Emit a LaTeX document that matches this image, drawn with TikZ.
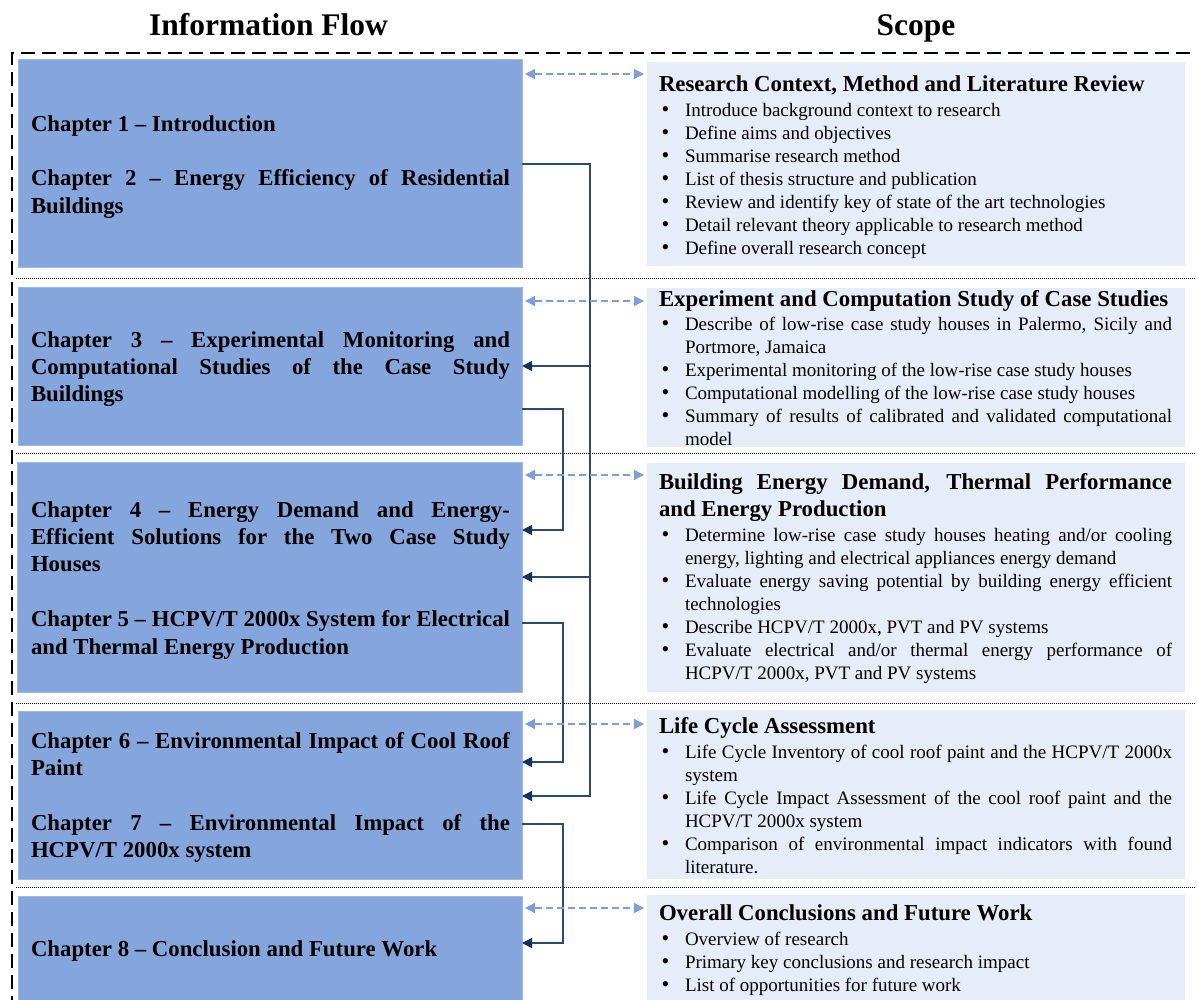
\documentclass[tikz,border=0pt]{standalone}
\usepackage{fontspec}
\setmainfont{Liberation Serif}
\usetikzlibrary{arrows.meta}
\definecolor{chapfill}{RGB}{132,166,220}
\definecolor{chapedge}{RGB}{160,186,230}
\definecolor{scopefill}{RGB}{230,236,248}
\definecolor{dasharrow}{RGB}{124,158,218}
\definecolor{flowline}{RGB}{42,76,116}
\definecolor{flowtip}{RGB}{18,52,92}
\newcommand\chapfont{\fontsize{22.8pt}{27.4pt}\selectfont\bfseries}
\newcommand\headfont{\fontsize{22.8pt}{27pt}\selectfont\bfseries}
\newcommand\bulfont{\fontsize{19pt}{23pt}\selectfont\mdseries}
\newcommand\titlefont{\fontsize{31.5pt}{36pt}\selectfont\bfseries}
\newcommand\bitem[1]{\par\hangindent=26pt\hangafter=1\noindent\makebox[26pt][l]{\hspace{2.5pt}{\fontsize{22pt}{23pt}\selectfont\textbullet}}#1}
\newcommand\chaptext[1]{\parbox[t]{479pt}{\hyphenpenalty=10000\exhyphenpenalty=10000\tolerance=10000\chapfont #1}}
\newcommand\scopetext[1]{\parbox[t]{513pt}{\hyphenpenalty=10000\exhyphenpenalty=10000\tolerance=10000 #1}}
\begin{document}
\begin{tikzpicture}[x=1pt,y=-1pt,
  chapbox/.style={draw=chapedge, line width=1pt, fill=chapfill, anchor=north west, inner sep=0pt, outer sep=0pt},
  scopebox/.style={fill=scopefill, draw=none, anchor=north west, inner sep=0pt, outer sep=0pt, minimum width=538pt},
  txt/.style={anchor=base west, inner sep=0pt, outer sep=0pt},
  flow/.style={draw=flowline, line width=1.5pt},
  flowarrow/.style={flow, -{Triangle[length=10pt,width=10pt,color=flowtip]}},
  linkarrow/.style={draw=dasharrow, line width=1.3pt, dash pattern=on 7pt off 4pt,
    {Triangle[length=10pt,width=10pt]}-{Triangle[length=10pt,width=10pt]},
    shorten <=3pt, shorten >=3pt},
  sepline/.style={draw=black, line width=0.8pt, dash pattern=on 1pt off 1pt},
  frameline/.style={draw=black, line width=2pt, dash pattern=on 14pt off 7pt}]
\useasboundingbox[fill=white] (0,0) rectangle (1197,999);

% titles
\node[anchor=base, inner sep=0pt] (t1) at (268.5,35) {\titlefont Information Flow};
\node[anchor=base, inner sep=0pt] (t2) at (916,35) {\titlefont Scope};

% outer dashed frame
\draw[frameline] (12,1010) -- (12,53) -- (1215,53);

% separators
\draw[sepline] (16,278) -- (1195,278);
\draw[sepline] (16,453) -- (1195,453);
\draw[sepline] (16,703) -- (1195,703);
\draw[sepline] (16,887) -- (1195,887);

% chapter boxes
\node[chapbox, minimum width=504pt, minimum height=208pt] (L1) at (18,59) {};
\node[chapbox, minimum width=504pt, minimum height=158pt] (L2) at (18,287) {};
\node[chapbox, minimum width=505pt, minimum height=230pt] (L3) at (17,462) {};
\node[chapbox, minimum width=504pt, minimum height=168pt] (L4) at (18,711) {};
\node[chapbox, minimum width=504pt, minimum height=120pt] (L5) at (18,896) {};

% scope boxes
\node[scopebox, minimum height=204pt] (R1) at (647,62) {};
\node[scopebox, minimum height=159pt] (R2) at (647,288) {};
\node[scopebox, minimum height=229pt] (R3) at (647,463) {};
\node[scopebox, minimum height=169pt] (R4) at (647,710) {};
\node[scopebox, minimum height=120pt] (R5) at (647,895) {};

% chapter texts
\node[txt] (T1) at (31,131) {\chaptext{Chapter 1 \textendash{} Introduction\par\vspace{27.4pt}
  Chapter 2 \textendash{} Energy Efficiency of Residential\linebreak Buildings}};
\node[txt] (T2) at (31,347) {\chaptext{Chapter 3 \textendash{} Experimental Monitoring and\linebreak
  Computational Studies of the Case Study\linebreak Buildings}};
\node[txt] (T3) at (31,517) {\chaptext{Chapter 4 \textendash{} Energy Demand and Energy-\linebreak
  Efficient Solutions for the Two Case Study\linebreak Houses\par\vspace{27.4pt}
  Chapter 5 \textendash{} HCPV/T 2000x System for Electrical\linebreak and Thermal Energy Production}};
\node[txt] (T4) at (31,748) {\chaptext{Chapter 6 \textendash{} Environmental Impact of Cool Roof\linebreak Paint\par\vspace{27.4pt}
  Chapter 7 \textendash{} Environmental Impact of the\linebreak HCPV/T 2000x system}};
\node[txt] (T5) at (31,956) {\chaptext{Chapter 8 \textendash{} Conclusion and Future Work}};

% scope texts
\node[txt] (S1) at (659,91) {\scopetext{\headfont Research Context, Method and Literature Review\par
  \vspace{2.5pt}\bulfont
  \bitem{Introduce background context to research}
  \bitem{Define aims and objectives}
  \bitem{Summarise research method}
  \bitem{List of thesis structure and publication}
  \bitem{Review and identify key of state of the art technologies}
  \bitem{Detail relevant theory applicable to research method}
  \bitem{Define overall research concept}}};
\node[txt] (S2) at (659,306) {\scopetext{\headfont Experiment and Computation Study of Case Studies\par
  \vspace{1.5pt}\bulfont
  \bitem{Describe of low-rise case study houses in Palermo, Sicily and\linebreak Portmore, Jamaica}
  \bitem{Experimental monitoring of the low-rise case study houses}
  \bitem{Computational modelling of the low-rise case study houses}
  \bitem{Summary of results of calibrated and validated computational\linebreak model}}};
\node[txt] (S3) at (659,489) {\scopetext{\headfont Building Energy Demand, Thermal Performance\linebreak and Energy Production\par
  \vspace{2.5pt}\bulfont
  \bitem{Determine low-rise case study houses heating and/or cooling\linebreak energy, lighting and electrical appliances energy demand}
  \bitem{Evaluate energy saving potential by building energy efficient\linebreak technologies}
  \bitem{Describe HCPV/T 2000x, PVT and PV systems}
  \bitem{Evaluate electrical and/or thermal energy performance of\linebreak HCPV/T 2000x, PVT and PV systems}}};
\node[txt] (S4) at (659,733) {\scopetext{\headfont Life Cycle Assessment\par
  \vspace{2.5pt}\bulfont
  \bitem{Life Cycle Inventory of cool roof paint and the HCPV/T 2000x\linebreak system}
  \bitem{Life Cycle Impact Assessment of the cool roof paint and the\linebreak HCPV/T 2000x system}
  \bitem{Comparison of environmental impact indicators with found\linebreak literature.}}};
\node[txt] (S5) at (659,920) {\scopetext{\headfont Overall Conclusions and Future Work\par
  \vspace{2.5pt}\bulfont
  \bitem{Overview of research}
  \bitem{Primary key conclusions and research impact}
  \bitem{List of opportunities for future work}}};

% information flow connectors
\draw[flowarrow] (L2.east |- 0,409) -| (563,530) -- (L3.east |- 0,530);
\draw[flowarrow] (L3.east |- 0,623) -| (563,762) -- (L4.east |- 0,762);
\draw[flowarrow] (L4.east |- 0,824) -| (563,943) -- (L5.east |- 0,943);
\draw[flowarrow] (L1.east |- 0,164) -| (590,796) -- (L4.east |- 0,796);
\draw[flowarrow] (590,366) -- (L2.east |- 0,366);
\draw[flowarrow] (590,577) -- (L3.east |- 0,577);

% scope links
\draw[linkarrow] (L1.east |- 0,74) -- (R1.west |- 0,74);
\draw[linkarrow] (L2.east |- 0,301) -- (R2.west |- 0,301);
\draw[linkarrow] (L3.east |- 0,475) -- (R3.west |- 0,475);
\draw[linkarrow] (L4.east |- 0,724) -- (R4.west |- 0,724);
\draw[linkarrow] (L5.east |- 0,908) -- (R5.west |- 0,908);
\end{tikzpicture}
\end{document}
